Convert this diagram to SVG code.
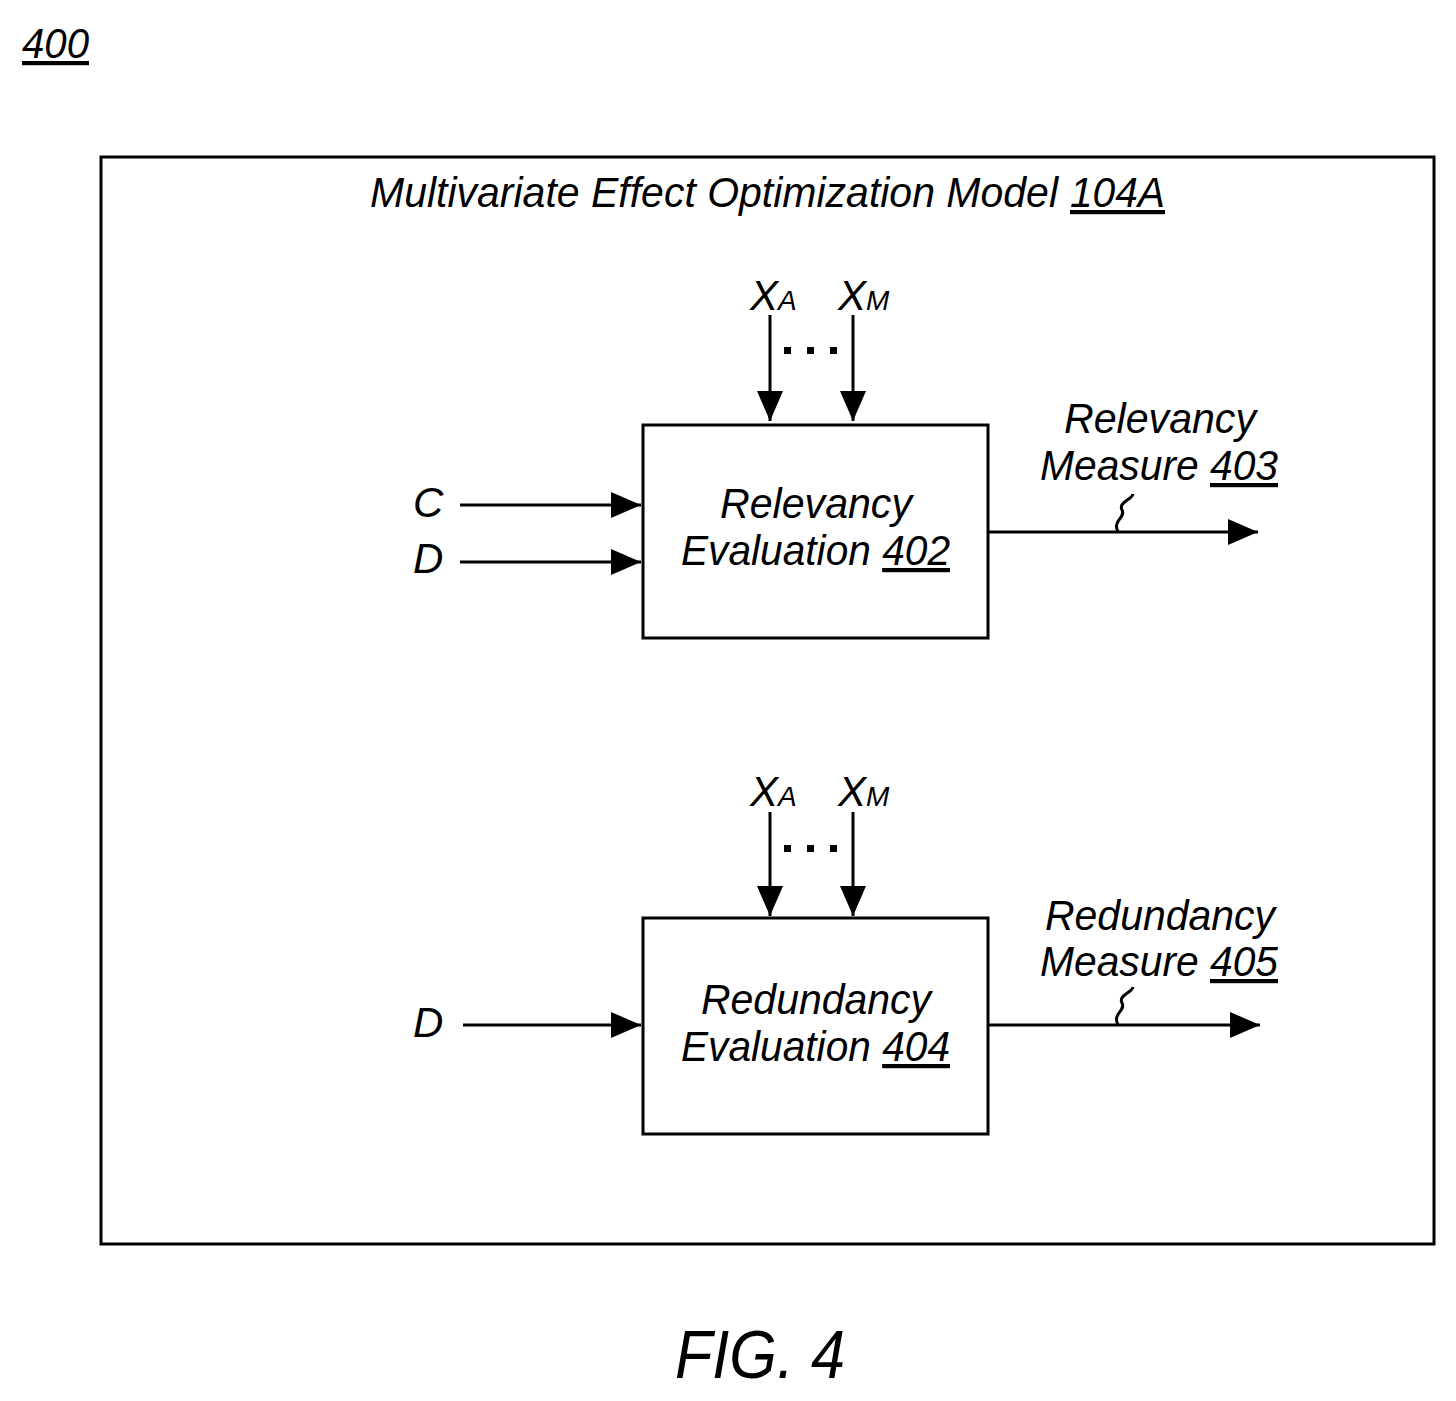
<svg xmlns="http://www.w3.org/2000/svg" width="1456" height="1401" viewBox="0 0 1456 1401">
<style>
text{font-family:"Liberation Sans",Arial,sans-serif;font-style:italic;fill:#000}
.t{font-size:42px}
.s{font-size:28px}
.u{text-decoration:underline}
.box{fill:#fff;stroke:#000;stroke-width:3}
.ln{stroke:#000;stroke-width:3;fill:none}
</style>
<defs>
<marker id="a" markerWidth="30" markerHeight="26" refX="30" refY="13" orient="auto" markerUnits="userSpaceOnUse">
<path d="M0,0 L30,13 L0,26 Z" fill="#000"/>
</marker>
</defs>
<text x="22" y="58" class="t u" textLength="67" lengthAdjust="spacingAndGlyphs">400</text>
<g id="outer">
<rect x="101" y="157" width="1333" height="1087" class="box"/>
<text x="370" y="207" class="t" textLength="688" lengthAdjust="spacingAndGlyphs">Multivariate Effect Optimization Model</text>
<text x="1070" y="207" class="t u" textLength="95" lengthAdjust="spacingAndGlyphs">104A</text>
</g>
<g id="relevancy">
<rect x="643" y="425" width="345" height="213" class="box"/>
<text x="816" y="518" class="t" text-anchor="middle" textLength="192" lengthAdjust="spacingAndGlyphs">Relevancy</text>
<text x="681" y="565" class="t" textLength="269" lengthAdjust="spacingAndGlyphs">Evaluation <tspan class="u">402</tspan></text>
</g>
<g id="redundancy">
<rect x="643" y="918" width="345" height="216" class="box"/>
<text x="816" y="1014" class="t" text-anchor="middle" textLength="230" lengthAdjust="spacingAndGlyphs">Redundancy</text>
<text x="681" y="1061" class="t" textLength="269" lengthAdjust="spacingAndGlyphs">Evaluation <tspan class="u">404</tspan></text>
</g>
<g id="labels">
<text x="413" y="517" class="t">C</text>
<text x="413" y="573" class="t">D</text>
<text x="413" y="1037" class="t">D</text>
<text x="750" y="310" class="t">X<tspan class="s">A</tspan></text>
<text x="838" y="310" class="t">X<tspan class="s">M</tspan></text>
<text x="750" y="806" class="t">X<tspan class="s">A</tspan></text>
<text x="838" y="806" class="t">X<tspan class="s">M</tspan></text>
<text x="1160" y="433" class="t" text-anchor="middle" textLength="192" lengthAdjust="spacingAndGlyphs">Relevancy</text>
<text x="1040" y="480" class="t" textLength="238" lengthAdjust="spacingAndGlyphs">Measure <tspan class="u">403</tspan></text>
<text x="1160" y="930" class="t" text-anchor="middle" textLength="230" lengthAdjust="spacingAndGlyphs">Redundancy</text>
<text x="1040" y="976" class="t" textLength="238" lengthAdjust="spacingAndGlyphs">Measure <tspan class="u">405</tspan></text>
<text x="760" y="1378" font-size="68" text-anchor="middle" textLength="170" lengthAdjust="spacingAndGlyphs">FIG. 4</text>
</g>
<g id="connectors">
<line x1="460" y1="505" x2="641" y2="505" class="ln" marker-end="url(#a)"/>
<line x1="460" y1="562" x2="641" y2="562" class="ln" marker-end="url(#a)"/>
<line x1="463" y1="1025" x2="641" y2="1025" class="ln" marker-end="url(#a)"/>
<line x1="770" y1="315" x2="770" y2="421" class="ln" marker-end="url(#a)"/>
<line x1="853" y1="315" x2="853" y2="421" class="ln" marker-end="url(#a)"/>
<line x1="770" y1="812" x2="770" y2="916" class="ln" marker-end="url(#a)"/>
<line x1="853" y1="812" x2="853" y2="916" class="ln" marker-end="url(#a)"/>
<line x1="988" y1="532" x2="1258" y2="532" class="ln" marker-end="url(#a)"/>
<line x1="988" y1="1025" x2="1260" y2="1025" class="ln" marker-end="url(#a)"/>
<path d="M1118,532 C1112,520 1126,518 1122,510 C1118,502 1132,500 1133,494" class="ln" stroke-width="1.5"/>
<path d="M1118,1025 C1112,1013 1126,1011 1122,1003 C1118,995 1132,993 1133,987" class="ln" stroke-width="1.5"/>
<g fill="#000"><rect x="784" y="347" width="7" height="7"/><rect x="807" y="347" width="7" height="7"/><rect x="830" y="347" width="7" height="7"/>
<rect x="784" y="845" width="7" height="7"/><rect x="807" y="845" width="7" height="7"/><rect x="830" y="845" width="7" height="7"/></g>
</g>
</svg>
